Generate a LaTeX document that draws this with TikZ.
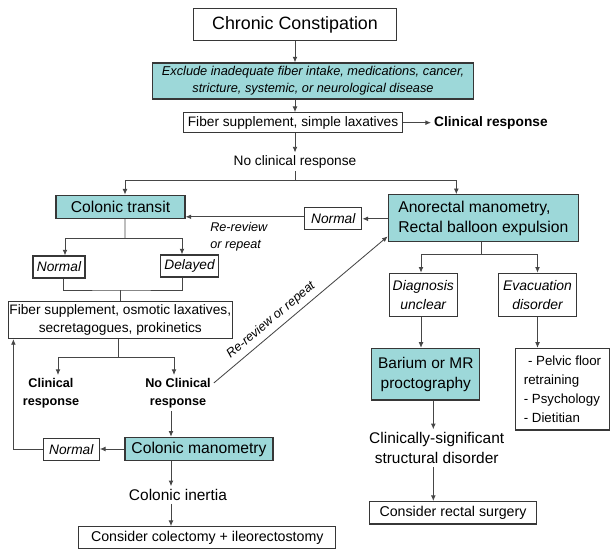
\documentclass[tikz,border=0pt]{standalone}
\usepackage{fontspec}
\setmainfont{Liberation Sans}
\usetikzlibrary{arrows.meta,calc}
\definecolor{boxline}{RGB}{55,55,55}
\definecolor{wireline}{RGB}{70,70,70}
\definecolor{aqua}{RGB}{157,216,217}

\begin{document}
\begin{tikzpicture}[x=0.025cm,y=-0.025cm,
  box/.style={draw=boxline,line width=0.85pt,inner sep=0pt,align=center,font=\fontsize{9.75}{13}\selectfont},
  shaded/.style={box,fill=aqua},
  txt/.style={inner sep=2pt,align=center,font=\fontsize{9.75}{13}\selectfont},
  link/.style={draw=wireline,line width=0.6pt,-{Latex[length=4pt,width=3.4pt]}},
  wire/.style={draw=wireline,line width=0.6pt}]
\useasboundingbox (0,0) rectangle (610,550);
\node[box,minimum width=5.075cm,minimum height=0.8cm,font=\fontsize{12.7}{15}\selectfont] (cc) at (295,24.5) {Chronic Constipation};
\node[shaded,minimum width=8.03cm,minimum height=0.9cm,font=\itshape\fontsize{9.1}{12.1}\selectfont] (excl) at (313,81) {Exclude inadequate fiber intake, medications, cancer,\\stricture, systemic, or neurological disease};
\node[box,minimum width=5.475cm,minimum height=0.5cm] (fib1) at (293,122.7) {Fiber supplement, simple laxatives};
\node[txt,anchor=west,font=\bfseries\fontsize{9.75}{13}\selectfont] (clin1) at (431,122.7) {Clinical response};
\node[txt] (ncr1) at (295,162) {No clinical response};
\node[shaded,minimum width=3.225cm,minimum height=0.575cm,font=\fontsize{11.15}{14.2}\selectfont] (ct) at (120.5,206.7) {Colonic transit};
\node[shaded,minimum width=4.75cm,minimum height=1.175cm,align=left,font=\fontsize{11.15}{14.2}\selectfont] (ar) at (483.3,218.3) {Anorectal manometry,\\Rectal balloon expulsion};
\node[box,minimum width=1.425cm,minimum height=0.55cm,font=\itshape\fontsize{9.75}{13}\selectfont] (nrm1) at (333.3,218.8) {Normal};
\node[txt,anchor=west,align=left,inner sep=0pt,font=\itshape\fontsize{9}{12.4}\selectfont] (rr1) at (210,237) {Re-review\\or repeat};
\node[box,minimum width=1.3cm,minimum height=0.55cm,font=\itshape\fontsize{9.75}{13}\selectfont] (nrm2) at (59,267) {Normal};
\node[box,minimum width=1.45cm,minimum height=0.55cm,font=\itshape\fontsize{9.75}{13}\selectfont] (del) at (189.5,266) {Delayed};
\node[box,minimum width=5.6cm,minimum height=0.925cm] (fib2) at (120.3,320) {Fiber supplement, osmotic laxatives,\\secretagogues, prokinetics};
\node[txt,font=\bfseries\fontsize{9}{12.8}\selectfont] (cr2) at (51,393) {Clinical\\response};
\node[txt,font=\bfseries\fontsize{9}{12.8}\selectfont] (ncr2) at (178,393) {No Clinical\\response};
\node[shaded,minimum width=3.7cm,minimum height=0.583cm,font=\fontsize{11.15}{14.2}\selectfont] (cm) at (199,449) {Colonic manometry};
\node[box,minimum width=1.4cm,minimum height=0.56cm,font=\itshape\fontsize{9.75}{13}\selectfont] (nrm3) at (71.3,449.5) {Normal};
\node[txt,font=\fontsize{11}{14.2}\selectfont] (ci) at (178,495) {Colonic inertia};
\node[box,minimum width=6.42cm,minimum height=0.54cm,font=\fontsize{10.1}{13}\selectfont] (col) at (207.3,537.5) {Consider colectomy + ileorectostomy};
\node[box,minimum width=1.7cm,minimum height=1.07cm,font=\itshape\fontsize{9.9}{13.5}\selectfont] (diag) at (423.3,294.7) {Diagnosis\\unclear};
\node[box,minimum width=1.95cm,minimum height=1.07cm,font=\itshape\fontsize{9.9}{13.5}\selectfont] (evac) at (537.5,294.7) {Evacuation\\disorder};
\node[shaded,minimum width=2.7cm,minimum height=1.29cm,font=\fontsize{11}{14.2}\selectfont] (bar) at (425.8,374.2) {Barium or MR\\proctography};
\node[box,minimum width=2.34cm,minimum height=2.04cm,align=left,font=\fontsize{9.45}{13.7}\selectfont] (pel) at (562.5,389.2) {\hspace*{3pt}- Pelvic floor\\retraining\\- Psychology\\- Dietitian};
\node[txt,font=\fontsize{11}{14.2}\selectfont] (csd) at (436.7,448) {Clinically-significant\\structural disorder};
\node[box,minimum width=4.175cm,minimum height=0.56cm,font=\fontsize{10.1}{13}\selectfont] (rs) at (453,512.8) {Consider rectal surgery};
\coordinate (s1) at (295,180);
\coordinate (s2) at (125,238);
\coordinate (s3) at (120,290);
\coordinate (s4) at (118,357);
\coordinate (s5) at (481,254);
\draw[link] (cc.south) -- (cc.south |- excl.north);
\draw[link] (cc.south |- excl.south) -- (cc.south |- fib1.north);
\draw[link] (fib1.east) -- (clin1.west);
\draw[link] (cc.south |- fib1.south) -- (ncr1.north);
\draw[wire] (ncr1.south) -- (s1);
\draw[link] (s1) -| ($(ct.north)+(4.5,0)$);
\draw[link] (s1) -| ($(ar.north)+(-27,0)$);
\draw[link] (ar.west |- nrm1.east) -- (nrm1.east);
\draw[link] ($(nrm1.west)+(0,-2)$) coordinate (t1) -- (t1 -| ct.east);
\draw[wire] ($(ct.south)+(4.5,0)$) -- (s2);
\draw[link] (s2) -| ($(nrm2.north)+(6,0)$);
\draw[link] (s2) -| ($(del.north)+(-7.5,0)$);
\draw[wire] ($(nrm2.south)+(4,0)$) |- (s3) -| ($(del.south)+(-7.5,0)$);
\draw[wire] (s3) -- (s3 |- fib2.north);
\draw[wire] (s4 |- fib2.south) -- (s4);
\draw[link] (s4) -| ($(cr2.north)+(7,0)$);
\draw[link] (s4) -| ($(ncr2.north)+(-4,0)$);
\draw[link] ($(ncr2.south)+(-7,0)$) coordinate (t2) -- (t2 |- cm.north);
\draw[link] (cm.west) -- (cm.west -| nrm3.east);
\draw[link] (nrm3.west) -| ($(fib2.south west)+(5.7,0)$);
\draw[link] ($(cm.south)+(-28,0)$) coordinate (t3) -- (t3 |- ci.north);
\draw[link] (t3 |- ci.south) -- (t3 |- col.north);
\draw[wire] (s5 |- ar.south) -- (s5);
\draw[link] (s5) -| ($(diag.north)+(-2.3,0)$);
\draw[link] (s5) -| (evac.north);
\draw[link] ($(diag.south)+(-2.3,0)$) coordinate (t4) -- (t4 |- bar.north);
\draw[link] (evac.south) -- (evac.south |- pel.north);
\draw[link] ($(bar.south)+(7.5,0)$) coordinate (t5) -- (t5 |- csd.north);
\draw[link] (t5 |- csd.south) -- (t5 |- rs.north);
\draw[link] ($(ncr2.east)+(0,-10)$) -- ($(ar.south west)+(0,-6)$) node[pos=0.37,sloped,above,font=\itshape\fontsize{9}{11}\selectfont] (rr2) {Re-review or repeat};
\end{tikzpicture}
\end{document}
